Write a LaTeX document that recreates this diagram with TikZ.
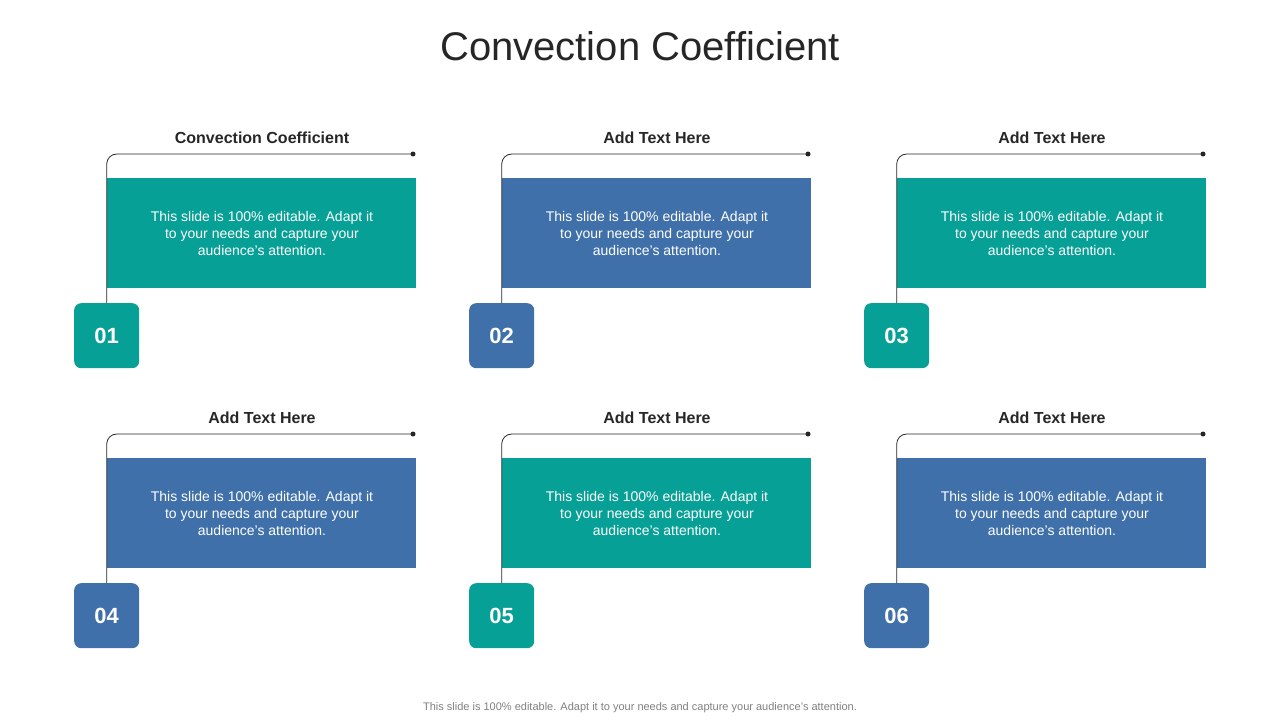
\documentclass[tikz,border=0pt]{standalone}
\usepackage{fontspec}
\setmainfont{Liberation Sans}
\definecolor{teal1}{HTML}{07A096}
\definecolor{blue1}{HTML}{3F70A9}
\definecolor{txt}{HTML}{262626}
\begin{document}
\begin{tikzpicture}[x=1pt,y=-1pt,
  body/.style={fill=#1,draw=none,minimum width=309pt,minimum height=110pt,anchor=north west,inner sep=0pt},
  badge/.style={fill=#1,draw=none,rounded corners=7pt,minimum width=65pt,minimum height=65pt,anchor=north west,text=white,font=\bfseries\fontsize{22}{24}\selectfont},
  btext/.style={text=white,align=center,font=\fontsize{14}{17}\selectfont},
  ttl/.style={text=txt,font=\bfseries\fontsize{16}{18}\selectfont},
  conn/.style={draw=txt,line width=0.8pt,rounded corners=10pt}]
\useasboundingbox (0,0) rectangle (1280,720);
\node[text=txt,font=\fontsize{40}{46}\selectfont] (title) at (640,46) {Convection Coefficient};
\foreach \i/\cx/\cy/\col/\t in {1/0/0/teal1/Convection Coefficient,2/395/0/blue1/Add  Text Here,3/790/0/teal1/Add  Text Here,4/0/280/blue1/Add  Text Here,5/395/280/teal1/Add  Text Here,6/790/280/blue1/Add  Text Here}{
  \begin{scope}[shift={(\cx,\cy)}]
  \node[body=\col] (r\i) at (107,178) {};
  \node[btext] (b\i) at (262,233) {This slide is 100\% editable. Adapt it\\to your needs and capture your\\audience's attention.};
  \node[badge=\col] (n\i) at (74,303) {0\i};
  \coordinate (e\i) at (413,154);
  \draw[conn] (n\i.north) |- (e\i);
  \fill[txt] (e\i) circle (2.5pt);
  \node[ttl] (t\i) at (262,138) {\t};
  \end{scope}
}
\node[text=gray,font=\fontsize{11}{13}\selectfont] (foot) at (640,708) {This slide is 100\% editable. Adapt it to your needs and capture your audience's attention.};
\end{tikzpicture}
\end{document}
